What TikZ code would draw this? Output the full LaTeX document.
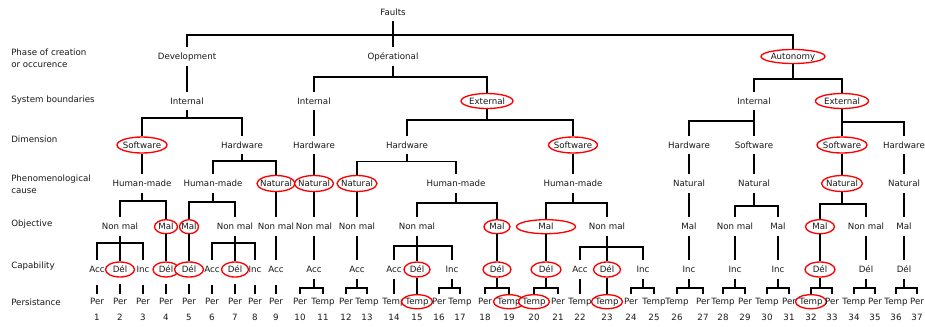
\documentclass[tikz,border=0pt]{standalone}
\usepackage{fontspec}
\setmainfont{DejaVu Sans}
\usetikzlibrary{shapes.geometric}
% one parent, a bar at height #2, and the children hanging from it
\newcommand{\fork}[3]{%
  \foreach \kid in {#3}
    \draw[edge] (#1.south) -- (#1.south |- 0,#2) -| (\kid.north);}

\begin{document}
\begin{tikzpicture}[
  x=0.75pt, y=-0.75pt,
  font=\fontsize{6.5}{8.5}\selectfont,
  every node/.style={text=black!90},
  tag/.style={inner xsep=1pt, inner ysep=0pt, text height=5pt, text depth=0.5pt, minimum height=13.5pt},
  leaf/.style={tag, minimum height=10.5pt},
  num/.style={inner sep=1pt},
  redring/.style 2 args={ellipse, draw=red, line width=1pt, fill=white, inner sep=-20pt,
                         minimum width=#1*0.75pt, minimum height=#2*0.75pt,
                         text height=5pt, text depth=0.5pt},
  tring/.style={redring={31}{14}},
  facet/.style={anchor=west, align=left, inner xsep=0pt},
  edge/.style={draw=black, line width=1pt},
  stub/.style={edge, shorten <=5pt},
]
\path[use as bounding box, fill=white] (0,0) rectangle (925,326);

% ------------------------------------------------------------ facets
\node[facet] (fphase) at (11,58.3) {Phase of creation\\or occurence};
\node[facet] (fbound) at (11,100.5) {System boundaries};
\node[facet] (fdim) at (11,139) {Dimension};
\node[facet] (fcause) at (11,184.4) {Phenomenological\\cause};
\node[facet] (fobj) at (11,224) {Objective};
\node[facet] (fcap) at (11,266) {Capability};
\node[facet] (fpers) at (11,302.3) {Persistance};

% ------------------------------------------------------------ phase
\node[tag] (faults) at (393,12) {Faults};
\node[tag] (dev) at (187,56.5) {Development};
\node[tag] (ope) at (393,56.5) {Opérational};
\node[redring={64}{14}] (aut) at (793,56.5) {Autonomy};

% ------------------------------------------------------------ boundaries
\node[tag] (int1) at (187,101) {Internal};
\node[tag] (int2) at (314,101) {Internal};
\node[tag] (int3) at (754,101) {Internal};
\node[redring={52}{15}] (ext1) at (487,101) {External};
\node[redring={53}{15}] (ext2) at (842,101) {External};

% ------------------------------------------------------------ dimension
\node[tag] (hw1) at (242,145) {Hardware};
\node[tag] (hw2) at (314,145) {Hardware};
\node[tag] (hw3) at (407,145) {Hardware};
\node[tag] (hw4) at (689,145) {Hardware};
\node[tag] (sw3) at (754,145) {Software};
\node[tag, inner xsep=0pt] (hw5) at (904,145) {Hardware};
\node[redring={50}{16}] (sw1) at (142,145) {Software};
\node[redring={49}{16}] (sw2) at (573,145) {Software};
\node[redring={50}{16}] (sw4) at (842,145) {Software};

% ------------------------------------------------------------ cause
\node[tag] (hm1) at (142,183.5) {Human-made};
\node[tag] (hm2) at (213,183.5) {Human-made};
\node[tag] (hm3) at (456,183.5) {Human-made};
\node[tag] (hm4) at (573,183.5) {Human-made};
\node[tag] (nat4) at (689,183.5) {Natural};
\node[tag] (nat5) at (754,183.5) {Natural};
\node[tag] (nat7) at (904,183.5) {Natural};
\node[redring={38}{16}] (nat1) at (276,183.5) {Natural};
\node[redring={39}{16}] (nat2) at (314,183.5) {Natural};
\node[redring={40}{16}] (nat3) at (357,183.5) {Natural};
\node[redring={41}{16}] (nat6) at (842,183.5) {Natural};

% ------------------------------------------------------------ objective
\node[tag] (nm1) at (120,226.7) {Non mal};
\node[tag] (nm2) at (235,226.7) {Non mal};
\node[tag] (nm3) at (276,226.7) {Non mal};
\node[tag] (nm4) at (314,226.7) {Non mal};
\node[tag] (nm5) at (357,226.7) {Non mal};
\node[tag] (nm6) at (417,226.7) {Non mal};
\node[tag] (nm7) at (607,226.7) {Non mal};
\node[tag] (mal5) at (689,226.7) {Mal};
\node[tag] (nm8) at (735,226.7) {Non mal};
\node[tag] (mal6) at (778,226.7) {Mal};
\node[tag] (nm9) at (866,226.7) {Non mal};
\node[tag] (mal8) at (904,226.7) {Mal};
\node[redring={23}{14}] (mal1) at (166,226.7) {Mal};
\node[redring={19}{14}] (mal2) at (189,226.7) {Mal};
\node[redring={26}{14}] (mal3) at (497,226.7) {Mal};
\node[redring={59}{14}] (mal4) at (546,226.7) {Mal};
\node[redring={29}{14}] (mal7) at (820,226.7) {Mal};

% ------------------------------------------------------------ capability
\node[tag] (acc1) at (97,269.5) {Acc};
\node[tag] (inc1) at (143,269.5) {Inc};
\node[tag] (acc2) at (212,269.5) {Acc};
\node[tag] (inc2) at (255,269.5) {Inc};
\node[tag] (acc3) at (276,269.5) {Acc};
\node[tag] (acc4) at (314,269.5) {Acc};
\node[tag] (acc5) at (357,269.5) {Acc};
\node[tag] (acc6) at (394,269.5) {Acc};
\node[tag] (inc3) at (452,269.5) {Inc};
\node[tag] (acc7) at (580,269.5) {Acc};
\node[tag] (inc4) at (643,269.5) {Inc};
\node[tag] (inc5) at (689,269.5) {Inc};
\node[tag] (inc6) at (735,269.5) {Inc};
\node[tag] (inc7) at (778,269.5) {Inc};
\node[tag] (del10) at (866,269.5) {Dél};
\node[tag] (del11) at (904,269.5) {Dél};
\node[redring={29}{15}] (del1) at (120,269.5) {Dél};
\node[redring={26}{15}] (del2) at (166,269.5) {Dél};
\node[redring={29}{15}] (del3) at (189,269.5) {Dél};
\node[redring={27}{15}] (del4) at (235,269.5) {Dél};
\node[redring={26}{15}] (del5) at (417,269.5) {Dél};
\node[redring={28}{15}] (del6) at (497,269.5) {Dél};
\node[redring={30}{15}] (del7) at (546,269.5) {Dél};
\node[redring={27}{15}] (del8) at (607,269.5) {Dél};
\node[redring={30}{15}] (del9) at (820,269.5) {Dél};

% ------------------------------------------------------------ persistance
\foreach \x/\t/\s [count=\i] in {97/Per/leaf, 120/Per/leaf, 143/Per/leaf, 166/Per/leaf,
    189/Per/leaf, 212/Per/leaf, 235/Per/leaf, 255/Per/leaf, 276/Per/leaf, 300/Per/leaf,
    323/Temp/leaf, 346/Per/leaf, 367/Temp/leaf, 394/Temp/leaf, 417/Temp/tring, 439/Per/leaf,
    460/Temp/leaf, 485/Per/leaf, 509/Temp/tring, 534/Temp/tring, 558/Per/leaf, 580/Temp/leaf,
    607/Temp/tring, 631/Per/leaf, 654/Temp/leaf, 677/Temp/leaf, 703/Per/leaf, 723/Temp/leaf,
    745/Per/leaf, 767/Temp/leaf, 789/Per/leaf, 811/Temp/tring, 832/Per/leaf, 854/Temp/leaf,
    875/Per/leaf, 896/Temp/leaf, 917/Per/leaf}
  {\node[\s] (l\i) at (\x,301.7) {\t};
   \node[num] (n\i) at (\x,317.3) {\i};}

% ------------------------------------------------------------ links
\fork{faults}{35}{dev,ope,aut}
\fork{ope}{77}{int2,ext1}
\fork{aut}{79}{int3,ext2}
\fork{int1}{118}{sw1,hw1}
\fork{ext1}{120}{hw3,sw2}
\fork{int3}{121}{hw4,sw3}
\fork{ext2}{122}{sw4,hw5}
\fork{hw1}{161}{hm2,nat1}
\fork{hw3}{161.5}{nat3,hm3}
\fork{hm1}{201}{nm1,mal1}
\fork{hm2}{202}{mal2,nm2}
\fork{hm3}{203}{nm6,mal3}
\fork{hm4}{203}{mal4,nm7}
\fork{nat5}{206}{nm8,mal6}
\fork{nat6}{204}{mal7,nm9}
\fork{nm1}{243}{acc1,del1,inc1}
\fork{nm2}{243}{acc2,del4,inc2}
\fork{nm6}{246}{acc6,del5,inc3}
\fork{nm7}{247}{acc7,del8,inc4}
\foreach \a/\b in {dev/int1, int2/hw2, sw1/hm1, hw2/nat2, sw2/hm4, hw4/nat4, sw3/nat5,
    sw4/nat6, hw5/nat7, nat1/nm3, nat2/nm4, nat3/nm5, nat4/mal5, nat7/mal8,
    mal1/del2, mal2/del3, nm3/acc3, nm4/acc4, nm5/acc5, mal3/del6, mal4/del7,
    mal5/inc5, nm8/inc6, mal6/inc7, mal7/del9, nm9/del10, mal8/del11,
    acc6/l14, del5/l15, acc7/l22, del8/l23}
  \draw[edge] (\a.south) -- (\b.north);
% the first nine leaves hang a little below their capability
\foreach \a/\b in {acc1/l1, del1/l2, inc1/l3, del2/l4, del3/l5, acc2/l6, del4/l7, inc2/l8, acc3/l9}
  \draw[stub] (\a.south) -- (\b.north);
\fork{acc4}{288}{l10,l11}
\fork{acc5}{288}{l12,l13}
\fork{inc3}{288}{l16,l17}
\fork{del6}{288}{l18,l19}
\fork{del7}{288}{l20,l21}
\fork{inc4}{288}{l24,l25}
\fork{inc5}{288}{l26,l27}
\fork{inc6}{288}{l28,l29}
\fork{inc7}{288}{l30,l31}
\fork{del9}{288}{l32,l33}
\fork{del10}{288}{l34,l35}
\fork{del11}{288}{l36,l37}
\end{tikzpicture}
\end{document}
